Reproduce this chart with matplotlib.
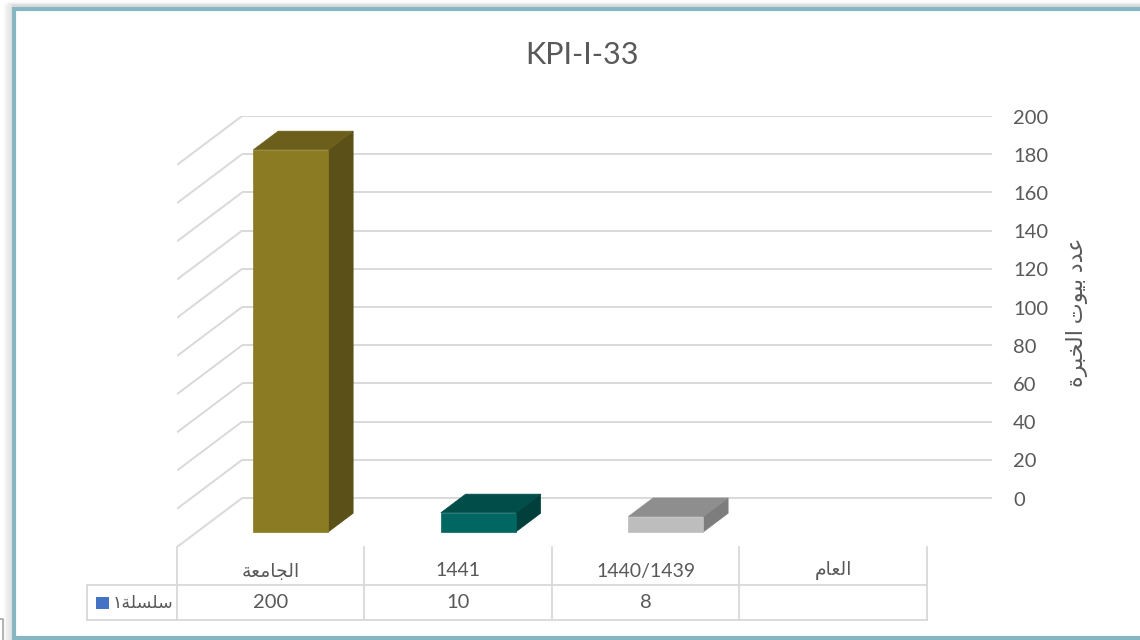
import matplotlib
matplotlib.use("Agg")
import matplotlib.pyplot as plt
from matplotlib.patches import Polygon, Rectangle
from matplotlib.transforms import Affine2D, ScaledTranslation, blended_transform_factory

# ---- data -------------------------------------------------------------
title = "KPI-I-33"
categories = ["الجامعة", "1441", "1440/1439", "العام"]
values = [200, 10, 8, None]
table_values = ["200", "10", "8", ""]
series_name = "سلسلة١"
y_title = "عدد بيوت الخبرة"
y_ticks = [0, 20, 40, 60, 80, 100, 120, 140, 160, 180, 200]

# ---- styling ----------------------------------------------------------
face_colors = ["#8B7B22", "#006661", "#BDBDBD", "#BDBDBD"]
top_colors = ["#6C5F1B", "#004D4A", "#8E8E8E", "#8E8E8E"]
side_colors = ["#5B5018", "#003F3C", "#7D7D7D", "#7D7D7D"]
grid_color = "#D9D9D9"
text_color = "#595959"
key_color = "#4472C4"

LATIN = ["Lato", "DejaVu Sans"]

# minimal Arabic shaping (presentation forms) + right-to-left ordering
FORMS = {
    "ا": ("\uFE8D", "\uFE8E", None, None),
    "ب": ("\uFE8F", "\uFE90", "\uFE91", "\uFE92"),
    "ت": ("\uFE95", "\uFE96", "\uFE97", "\uFE98"),
    "ة": ("\uFE93", "\uFE94", None, None),
    "ج": ("\uFE9D", "\uFE9E", "\uFE9F", "\uFEA0"),
    "خ": ("\uFEA5", "\uFEA6", "\uFEA7", "\uFEA8"),
    "د": ("\uFEA9", "\uFEAA", None, None),
    "ر": ("\uFEAD", "\uFEAE", None, None),
    "س": ("\uFEB1", "\uFEB2", "\uFEB3", "\uFEB4"),
    "ع": ("\uFEC9", "\uFECA", "\uFECB", "\uFECC"),
    "ل": ("\uFEDD", "\uFEDE", "\uFEDF", "\uFEE0"),
    "م": ("\uFEE1", "\uFEE2", "\uFEE3", "\uFEE4"),
    "و": ("\uFEED", "\uFEEE", None, None),
    "ي": ("\uFEF1", "\uFEF2", "\uFEF3", "\uFEF4"),
}


def rtl(text):
    if not any(c in FORMS for c in text):
        return text
    out = []
    for i, c in enumerate(text):
        if c not in FORMS:
            out.append(c)
            continue
        prev = text[i - 1] if i > 0 else ""
        nxt = text[i + 1] if i + 1 < len(text) else ""
        join_prev = prev in FORMS and FORMS[prev][2] is not None
        join_next = nxt in FORMS and FORMS[c][2] is not None
        iso, fin, ini, med = FORMS[c]
        if join_prev and join_next:
            out.append(med)
        elif join_prev:
            out.append(fin)
        elif join_next:
            out.append(ini)
        else:
            out.append(iso)
    # reverse for display, keeping runs of Latin digits in reading order
    s = "".join(out)[::-1]
    res, run = [], ""
    for c in s:
        if c.isascii() and c.isdigit():
            run += c
        else:
            res.append(run[::-1])
            run = ""
            res.append(c)
    res.append(run[::-1])
    return "".join(res)


# ---- figure -----------------------------------------------------------
W, H = 1140, 640
fig = plt.figure(figsize=(W / 100, H / 100), dpi=100)
fig.patch.set_facecolor("white")

# pixel-from-top coordinate system for layout elements
PX = Affine2D().scale(1 / W, -1 / H).translate(0, 1) + fig.transFigure

# chart frame with soft shadow (kept behind the plotting axes)
for k, a in enumerate([0.05, 0.07, 0.09, 0.12]):
    fig.patches.append(Rectangle((6 + 2 * k, 4 + k), 1200, 640, transform=PX,
                                 facecolor="none", edgecolor="#808080",
                                 alpha=a, lw=3, zorder=-3))
fig.patches.append(Rectangle((14, 9), 1200, 629, transform=PX,
                             facecolor="white", edgecolor="#86B6C1",
                             lw=3.0, zorder=-2))
fig.lines.append(plt.Line2D([0, 3, 3], [619, 619, 640], transform=PX,
                            color="#A6A6A6", lw=1.2, zorder=-1))

# oblique projection: depth z in [0, 1] shifts points right and up
DEPTH_X = 0.347   # category units at full depth
DEPTH_V = 25.6    # value units at full depth
BAR_W = 0.40
Z0, Z1 = 0.31, 0.69


def proj(x, v, z):
    return (x + z * DEPTH_X, v + z * DEPTH_V)


ax = fig.add_axes([177 / W, (H - 547) / H, 815 / W, 431 / H])
ax.set_xlim(-0.5, 3.5 + DEPTH_X)
ax.set_ylim(0, 200 + DEPTH_V)
ax.axis("off")

n = len(categories)
x_left, x_right = -0.5, n - 0.5

# back wall and side wall gridlines
for v in y_ticks:
    p0, p1 = proj(x_left, v, 1), proj(x_right, v, 1)
    ax.plot([p0[0], p1[0]], [p0[1], p1[1]], color=grid_color, lw=1.4,
            solid_capstyle="butt", zorder=1)
    q0 = proj(x_left, v, 0)
    ax.plot([q0[0], p0[0]], [q0[1], p0[1]], color=grid_color, lw=1.4,
            solid_capstyle="butt", zorder=1)

# value axis labels on the right of the back wall
lab_tr = ax.transData + ScaledTranslation(21 / 100, -2 / 100, fig.dpi_scale_trans)
for v in y_ticks:
    px, py = proj(x_right, v, 1)
    ax.text(px, py, str(v), transform=lab_tr, ha="left", va="center",
            fontsize=14.5, color=text_color, family=LATIN)

# 3D columns
for i, v in enumerate(values):
    if v is None:
        continue
    x0, x1 = i - BAR_W / 2, i + BAR_W / 2
    front = [proj(x0, 0, Z0), proj(x1, 0, Z0), proj(x1, v, Z0), proj(x0, v, Z0)]
    top = [proj(x0, v, Z0), proj(x1, v, Z0), proj(x1, v, Z1), proj(x0, v, Z1)]
    side = [proj(x1, 0, Z0), proj(x1, 0, Z1), proj(x1, v, Z1), proj(x1, v, Z0)]
    ax.add_patch(Polygon(side, closed=True, facecolor=side_colors[i],
                         edgecolor=side_colors[i], lw=0.5, zorder=3))
    ax.add_patch(Polygon(top, closed=True, facecolor=top_colors[i],
                         edgecolor=top_colors[i], lw=0.5, zorder=3))
    ax.add_patch(Polygon(front, closed=True, facecolor=face_colors[i],
                         edgecolor=face_colors[i], lw=0.5, zorder=4))

# data table under the floor
XPX = blended_transform_factory(ax.transData, PX)
tbl_color = "#D9D9D9"
row_top, row_mid, row_bot = 547, 585, 620
for b in range(n + 1):
    ax.plot([b - 0.5, b - 0.5], [row_top, row_bot], transform=XPX,
            color=tbl_color, lw=1.3, clip_on=False)
for y in (row_mid, row_bot):
    fig.lines.append(plt.Line2D([87, 177], [y, y], transform=PX,
                                color=tbl_color, lw=1.3))
    ax.plot([x_left, x_right], [y, y], transform=XPX, color=tbl_color,
            lw=1.3, clip_on=False)
fig.lines.append(plt.Line2D([87, 87], [row_mid, row_bot], transform=PX,
                            color=tbl_color, lw=1.3))

for i, (cat, val) in enumerate(zip(categories, table_values)):
    ax.text(i, 571, rtl(cat), transform=XPX, ha="center", va="center",
            fontsize=14 if cat.isascii() else 13.5, color=text_color,
            family=LATIN)
    ax.text(i, 603, val, transform=XPX, ha="center", va="center",
            fontsize=14.5, color=text_color, family=LATIN)

# series key in the table
fig.patches.append(Rectangle((96, 597), 13, 12, transform=PX,
                             facecolor=key_color, edgecolor="none"))
fig.text(113 / W, 1 - 603 / H, rtl(series_name), ha="left", va="center",
         fontsize=12.5, color=text_color, family=LATIN)

# title and axis title
fig.text(582 / W, 1 - 55 / H, title, ha="center", va="center",
         fontsize=22, color=text_color, family=LATIN)
fig.text(1077 / W, 1 - 312 / H, rtl(y_title), ha="center", va="center",
         rotation=90, fontsize=16, color=text_color, family=LATIN)

fig.savefig("out.png", dpi=100)
